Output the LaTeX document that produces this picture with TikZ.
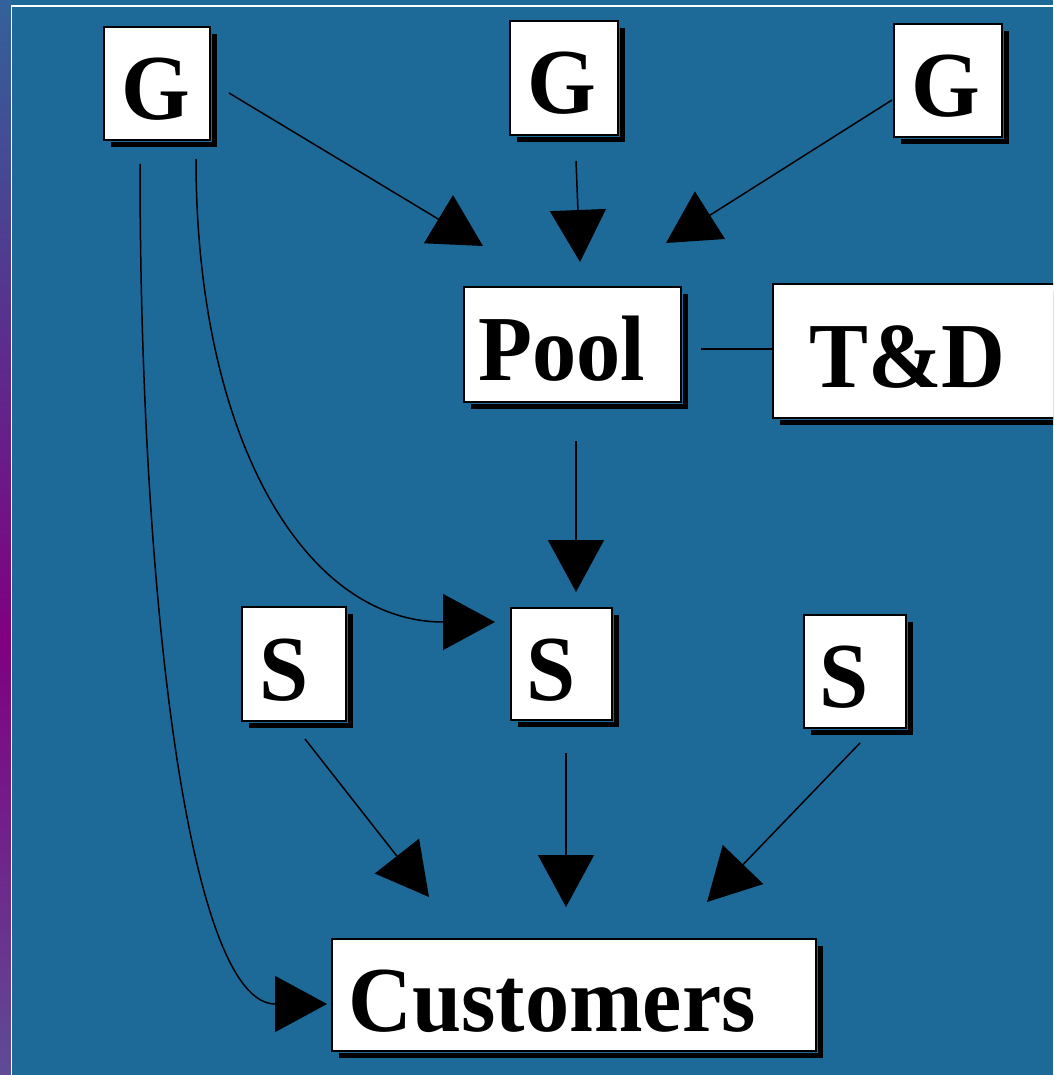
\documentclass[tikz,border=0pt]{standalone}
\usepackage{fontspec}
\newfontfamily\boxfont[FakeStretch=0.95]{Liberation Serif}
\usetikzlibrary{arrows.meta,shadows}
\definecolor{bgblue}{RGB}{29,106,153}
\definecolor{stripTop}{RGB}{50,98,155}
\definecolor{stripMid}{RGB}{128,0,128}
\definecolor{stripBot}{RGB}{95,75,150}
\begin{document}
\begin{tikzpicture}[x=1pt,y=-1pt,
  box/.style={draw=black, line width=2pt, fill=white, inner sep=0pt,
    text height=72pt, text depth=0pt,
    font=\boxfont\bfseries\fontsize{93}{93}\selectfont,
    drop shadow={shadow xshift=7pt, shadow yshift=-7pt, opacity=1, fill=black},
    preaction={draw=bgblue, line width=4pt}},
  conn/.style={line width=1.5pt, draw=black},
  arr/.style={conn, -{Triangle[length=52pt, width=56pt]}}]
\useasboundingbox (0,0) rectangle (1053,1075);
\clip (0,0) rectangle (1053,1075);

% background, side strip and frame line
\fill[bgblue] (0,0) rectangle (1053,1075);
\shade[top color=stripTop, bottom color=stripMid] (0,0) rectangle (10.5,640);
\shade[top color=stripMid, bottom color=stripBot] (0,640) rectangle (10.5,1075);
\draw[white, line width=1.5pt] (11.5,1080) -- (11.5,6) -- (1060,6);

% generators
\node[box, minimum width=106pt, minimum height=113pt] (g1) at (157,83.5) {G\kern3pt};
\node[box, minimum width=108pt, minimum height=114pt] (g2) at (564,78) {G\kern5pt};
\node[box, minimum width=108pt, minimum height=113pt] (g3) at (948,80.5) {G\kern5pt};

% pool and transmission
\node[box, minimum width=217pt, minimum height=115pt] (pool) at (572.5,344.5) {Pool\kern21pt};
\node[box, minimum width=286pt, minimum height=134pt] (tnd) at (916,351) {T\&D\kern17pt};

% suppliers
\node[box, minimum width=104pt, minimum height=114pt] (s1) at (294,664) {S\kern19pt};
\node[box, minimum width=101pt, minimum height=112pt] (s2) at (561.5,664) {S\kern21pt};
\node[box, minimum width=102pt, minimum height=113pt] (s3) at (855,671.5) {S\kern21pt};

% customers
\node[box, minimum width=484pt, minimum height=112pt] (cust) at (574,995) {Customers\kern44pt};

% generators to pool
\draw[arr] ([shift={(18,9.5)}]g1.east) -- ([shift={(20,-40)}]pool.north west);
\draw[arr] ([shift={(12,25)}]g2.south) -- ([shift={(7.5,-24)}]pool.north);
\draw[arr] ([shift={(-1,19.5)}]g3.west) -- ([shift={(-16,-43)}]pool.north east);

% pool to transmission
\draw[conn] ([shift={(19,4.5)}]pool.east) -- ([shift={(0,-2)}]tnd.west);

% pool to supplier
\draw[arr] ([shift={(3.5,38)}]pool.south) -- ([shift={(14.5,-15)}]s2.north);

% direct contracts from the first generator
\draw[arr] ([shift={(39,18)}]g1.south) .. controls +(0,280) and +(-190,0) .. ([shift={(-15,-42)}]s2.west);
\draw[arr] ([shift={(-17,23)}]g1.south) .. controls +(0,437) and +(-138,0) .. ([shift={(-4,9)}]cust.west);

% suppliers to customers
\draw[arr] ([shift={(11,17)}]s1.south) -- ([shift={(98,-41)}]cust.north west);
\draw[arr] ([shift={(4.5,32)}]s2.south) -- ([shift={(-8,-31)}]cust.north);
\draw[arr] ([shift={(5,14)}]s3.south) -- ([shift={(-110,-36)}]cust.north east);
\end{tikzpicture}
\end{document}
